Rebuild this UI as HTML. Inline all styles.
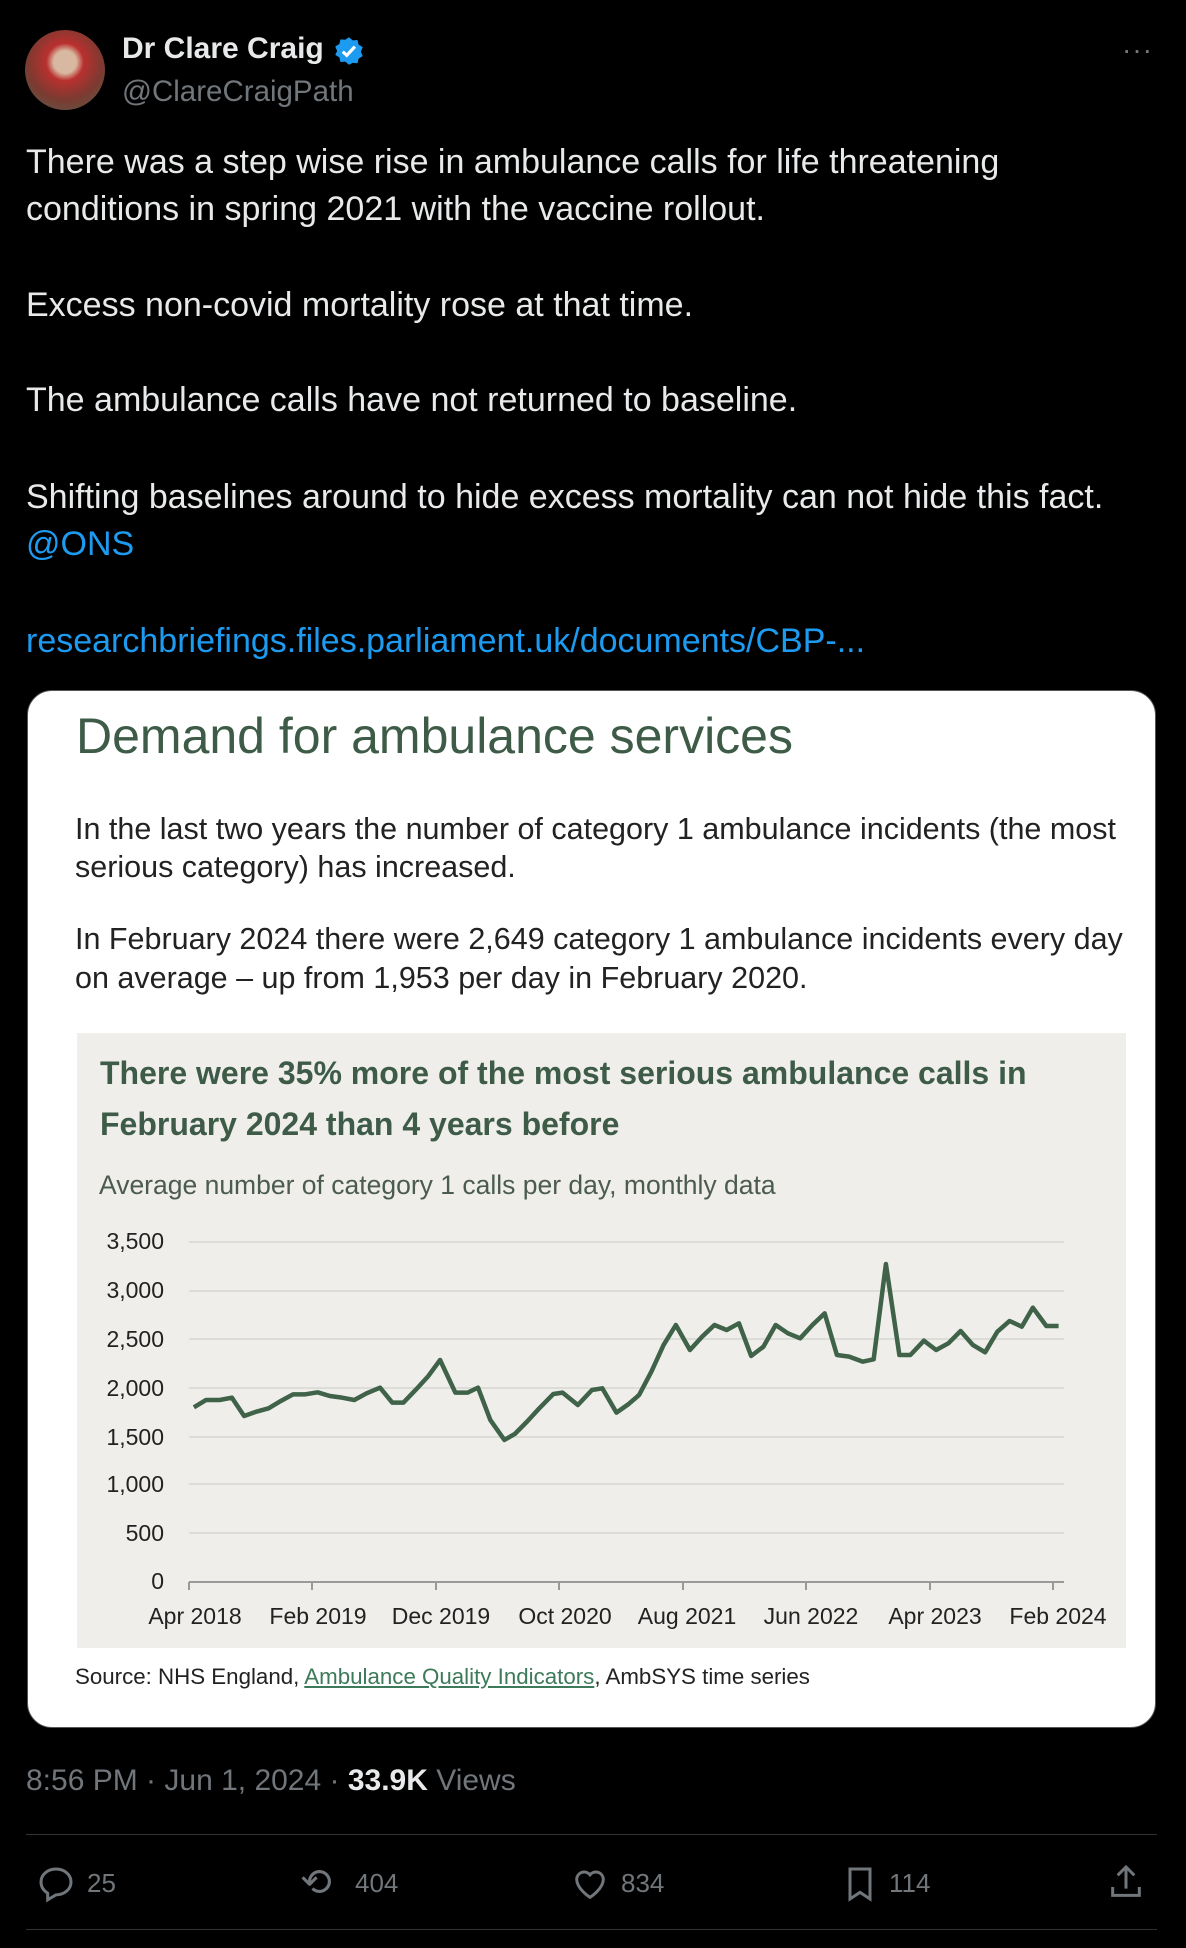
<!DOCTYPE html>
<html><head><meta charset="utf-8"><style>
body{margin:0;width:1186px;height:1948px;background:#000;position:relative;overflow:hidden;font-family:"Liberation Sans",sans-serif;}
.a{position:absolute;white-space:nowrap;}
.t{color:#e7e9ea;font-size:34px;line-height:38px;}
.g{color:#71767b;}
.lnk{color:#1d9bf0;}
.p{color:#222;font-size:30.5px;line-height:36px;}
.y{color:#222;font-size:23px;width:60px;text-align:right;line-height:28px;}
.x{color:#222;font-size:23px;line-height:28px;transform:translateX(-50%);}
</style></head><body>
<div class="a" style="left:25px;top:30px;width:80px;height:80px;border-radius:50%;background:radial-gradient(circle at 50% 40%,#d8b8a0 0 18%,#b9302f 30%,#7c3a30 60%,#556050 100%);"></div>
<div class="a" style="left:122px;top:32px;font-size:30px;font-weight:bold;color:#e7e9ea;">Dr Clare Craig</div>
<svg class="a" style="left:334px;top:36px" width="30" height="30" viewBox="0 0 24 24"><path fill="#1d9bf0" d="M12 1l3 2.5 3.8-.3.9 3.7 3.3 2-1.5 3.6 1.5 3.6-3.3 2-.9 3.7-3.8-.3L12 23l-3-2.5-3.8.3-.9-3.7-3.3-2L2.5 12 1 8.4l3.3-2 .9-3.7 3.8.3z"/><path d="M7 12.5l3.2 3 6.5-7" stroke="#fff" stroke-width="2.5" fill="none"/></svg>
<div class="a g" style="left:122px;top:75px;font-size:29.5px;">@ClareCraigPath</div>
<div class="a g" style="left:1122px;top:34px;font-size:28px;letter-spacing:1px;">···</div>

<div class="a t" style="left:26px;top:143px;">There was a step wise rise in ambulance calls for life threatening</div>
<div class="a t" style="left:26px;top:190px;">conditions in spring 2021 with the vaccine rollout.</div>
<div class="a t" style="left:26px;top:286px;">Excess non-covid mortality rose at that time.</div>
<div class="a t" style="left:26px;top:381px;">The ambulance calls have not returned to baseline.</div>
<div class="a t" style="left:26px;top:478px;">Shifting baselines around to hide excess mortality can not hide this fact.</div>
<div class="a t lnk" style="left:26px;top:525px;">@ONS</div>
<div class="a t lnk" style="left:26px;top:622px;">researchbriefings.files.parliament.uk/documents/CBP-...</div>

<div class="a" style="left:27px;top:690px;width:1127px;height:1036px;background:#fff;border:1px solid #555;border-radius:25px;"></div>
<div class="a" style="left:76px;top:707px;font-size:50px;color:#3d5b46;">Demand for ambulance services</div>
<div class="a p" style="left:75px;top:811px;">In the last two years the number of category 1 ambulance incidents (the most</div>
<div class="a p" style="left:75px;top:849px;">serious category) has increased.</div>
<div class="a p" style="left:75px;top:921px;">In February 2024 there were 2,649 category 1 ambulance incidents every day</div>
<div class="a p" style="left:75px;top:960px;">on average – up from 1,953 per day in February 2020.</div>

<div class="a" style="left:77px;top:1033px;width:1049px;height:615px;background:#efeeeb;"></div>
<div class="a" style="left:100px;top:1055px;font-size:32px;font-weight:bold;color:#3d5b46;">There were 35% more of the most serious ambulance calls in</div>
<div class="a" style="left:100px;top:1106px;font-size:32px;font-weight:bold;color:#3d5b46;">February 2024 than 4 years before</div>
<div class="a" style="left:99px;top:1170px;font-size:26.5px;color:#4b5b4e;">Average number of category 1 calls per day, monthly data</div>

<div class="a y" style="left:104px;top:1227px;">3,500</div>
<div class="a y" style="left:104px;top:1276px;">3,000</div>
<div class="a y" style="left:104px;top:1325px;">2,500</div>
<div class="a y" style="left:104px;top:1374px;">2,000</div>
<div class="a y" style="left:104px;top:1423px;">1,500</div>
<div class="a y" style="left:104px;top:1470px;">1,000</div>
<div class="a y" style="left:104px;top:1519px;">500</div>
<div class="a y" style="left:104px;top:1567px;">0</div>

<svg class="a" style="left:0;top:0" width="1186" height="1948">
<g stroke="#dcdcd8" stroke-width="2">
<line x1="189" x2="1064" y1="1242" y2="1242"/><line x1="189" x2="1064" y1="1291" y2="1291"/>
<line x1="189" x2="1064" y1="1339" y2="1339"/><line x1="189" x2="1064" y1="1388" y2="1388"/>
<line x1="189" x2="1064" y1="1437" y2="1437"/><line x1="189" x2="1064" y1="1484" y2="1484"/>
<line x1="189" x2="1064" y1="1533" y2="1533"/></g>
<g stroke="#999" stroke-width="2"><line x1="189" x2="1064" y1="1582" y2="1582"/>
<line x1="189" x2="189" y1="1582" y2="1590"/><line x1="312" x2="312" y1="1582" y2="1590"/>
<line x1="436" x2="436" y1="1582" y2="1590"/><line x1="559" x2="559" y1="1582" y2="1590"/>
<line x1="683" x2="683" y1="1582" y2="1590"/><line x1="806" x2="806" y1="1582" y2="1590"/>
<line x1="930" x2="930" y1="1582" y2="1590"/><line x1="1053" x2="1053" y1="1582" y2="1590"/></g>
<g transform="translate(140,1220) scale(0.6124,0.3333)">
<polyline fill="none" stroke="#3f6249" stroke-width="4.5" vector-effect="non-scaling-stroke" stroke-linejoin="round" points="88,562 108,540 130,540 150,533 170,588 190,575 210,565 230,543 250,523 270,523 290,517 310,528 330,533 350,540 370,520 392,503 412,548 430,548 450,510 470,470 490,420 515,518 535,518 552,503 572,600 595,660 612,642 632,605 652,565 675,522 690,518 715,555 738,510 755,505 778,578 798,552 815,525 835,455 855,375 875,315 898,390 918,350 938,315 958,330 978,310 998,408 1018,380 1038,315 1058,340 1078,355 1098,315 1118,280 1138,405 1158,410 1180,425 1198,418 1218,132 1240,405 1258,405 1280,362 1300,390 1320,370 1340,333 1360,375 1380,397 1400,335 1420,303 1440,320 1458,263 1480,318 1500,318"/>
</g>
</svg>
<div class="a x" style="left:195px;top:1602px;">Apr 2018</div>
<div class="a x" style="left:318px;top:1602px;">Feb 2019</div>
<div class="a x" style="left:441px;top:1602px;">Dec 2019</div>
<div class="a x" style="left:565px;top:1602px;">Oct 2020</div>
<div class="a x" style="left:687px;top:1602px;">Aug 2021</div>
<div class="a x" style="left:811px;top:1602px;">Jun 2022</div>
<div class="a x" style="left:935px;top:1602px;">Apr 2023</div>
<div class="a x" style="left:1058px;top:1602px;">Feb 2024</div>
<div class="a" style="left:75px;top:1664px;font-size:22.3px;color:#222;">Source: NHS England, <span style="color:#3d7a5a;text-decoration:underline;">Ambulance Quality Indicators</span>, AmbSYS time series</div>

<div class="a g" style="left:26px;top:1764px;font-size:30px;">8:56 PM · Jun 1, 2024 · <b style="color:#e7e9ea">33.9K</b> Views</div>
<div class="a" style="left:26px;top:1834px;width:1131px;height:1px;background:#2f3336;"></div>
<div class="a" style="left:26px;top:1929px;width:1131px;height:1px;background:#2f3336;"></div>
<svg class="a" style="left:36px;top:1864px" width="40" height="40" viewBox="0 0 24 24"><path d="M12 3c5 0 9 3.4 9 7.8s-4 7.7-9 7.7l-5 3v-4C4.6 16 3 13.7 3 10.8 3 6.4 7 3 12 3z" fill="none" stroke="#71767b" stroke-width="1.8"/></svg>
<div class="a g" style="left:87px;top:1868px;font-size:26px;">25</div>
<div class="a g" style="left:300px;top:1860px;font-size:38px;">⟲</div>
<div class="a g" style="left:355px;top:1868px;font-size:26px;">404</div>
<svg class="a" style="left:570px;top:1864px" width="40" height="40" viewBox="0 0 24 24"><path d="M12 20s-8-5-8-11a4.5 4.5 0 0 1 8-2.5A4.5 4.5 0 0 1 20 9c0 6-8 11-8 11z" fill="none" stroke="#71767b" stroke-width="1.8"/></svg>
<div class="a g" style="left:621px;top:1868px;font-size:26px;">834</div>
<svg class="a" style="left:840px;top:1864px" width="40" height="40" viewBox="0 0 24 24"><path d="M6 3h12v18l-6-4-6 4z" fill="none" stroke="#71767b" stroke-width="1.8"/></svg>
<div class="a g" style="left:889px;top:1868px;font-size:26px;">114</div>
<svg class="a" style="left:1106px;top:1862px" width="40" height="40" viewBox="0 0 24 24"><path d="M12 3v13M7 8l5-5 5 5M4 15v5h16v-5" fill="none" stroke="#71767b" stroke-width="1.8"/></svg>
</body></html>
